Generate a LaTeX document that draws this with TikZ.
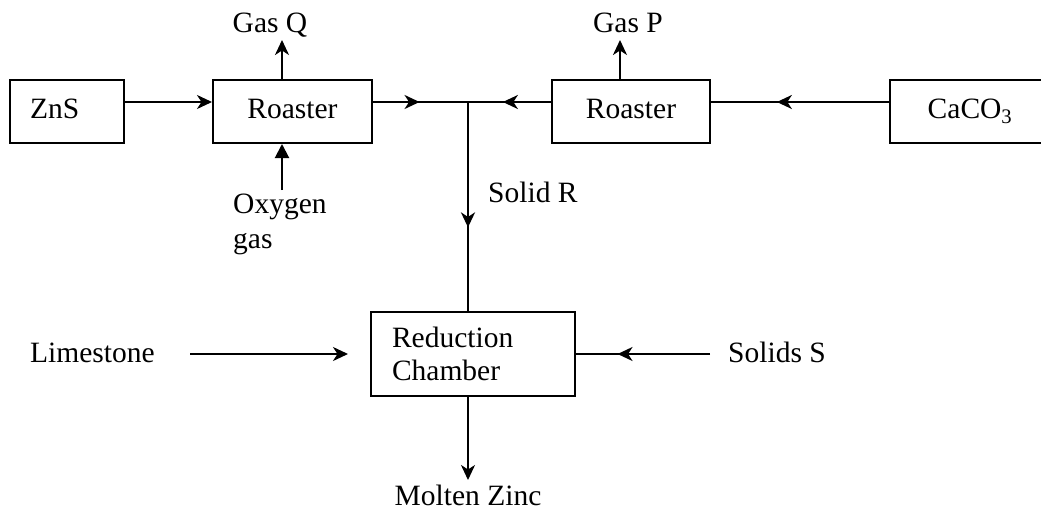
\documentclass[tikz,border=0pt]{standalone}
\usepackage{fontspec}
\setmainfont{Liberation Serif}
\usetikzlibrary{arrows.meta,decorations.markings}
\tikzset{
  x=1pt, y=-1pt,
  every node/.style={font=\fontsize{29.5}{33}\selectfont, inner sep=0pt},
  flow/.style={line width=2pt},
  tipS/.tip={Stealth[length=15pt,width=14pt,inset=4.5pt]},
  tipT/.tip={Triangle[length=14pt,width=14pt]},
  endarrow/.style={flow,-tipS},
  midarrow/.style={flow, postaction={decorate},
    decoration={markings, mark=at position #1 with {\arrow{tipS}}}},
  unit/.style={draw, line width=2pt, minimum height=63pt,
    text height=19pt, text depth=6pt},
  lbl/.style={anchor=base},
}
\begin{document}
\begin{tikzpicture}
\useasboundingbox (0,0) rectangle (1041,511);
% boxes
\node[unit, minimum width=114pt, inner xsep=20pt, text width=74pt, align=left] (zns) at (67,111.5) {ZnS};
\node[unit, minimum width=159pt] (r1) at (292.5,111.5) {Roaster};
\node[unit, minimum width=158pt] (r2) at (631,111.5) {Roaster};
\node[unit, minimum width=160pt] (caco) at (970,111.5) {CaCO\textsubscript{3}};
\node[draw, line width=2pt, minimum width=204pt, minimum height=84pt,
  inner xsep=21pt, text width=162pt, align=left] (red) at (473,354) {Reduction\\Chamber};
% labels
\node[lbl] (gasq) at (270,33) {Gas Q};
\node[lbl] (gasp) at (628,33) {Gas P};
\node[anchor=base west] (oxy) at (233,213) {Oxygen};
\node[anchor=base west] (oxy2) at (233,248) {gas};
\node[anchor=base west] (solr) at (488,202) {Solid R};
\node[anchor=base west] (lime) at (30,362) {Limestone};
\node[anchor=base west] (sols) at (728,362) {Solids S};
\node[lbl] (zinc) at (468,505) {Molten Zinc};
% coordinates
\coordinate (j) at (468,102);
\coordinate (gq) at (282,40);
\coordinate (gp) at (620,40);
\coordinate (ox) at (282,190);
\coordinate (ls) at (190,354);
\coordinate (le) at (348,354);
\coordinate (ss) at (710,354);
\coordinate (mz) at (468,480);
% connectors
\draw[endarrow] (zns.east |- j) -- (r1.west |- j);
\draw[midarrow=0.49] (r1.east |- j) -- (j);
\draw[midarrow=0.58] (r2.west |- j) -- (j);
\draw[midarrow=0.63] (caco.west |- j) -- (r2.east |- j);
\draw[endarrow] (r1.north -| gq) -- (gq);
\draw[endarrow] (r2.north -| gp) -- (gp);
\draw[flow,-tipT] (ox) -- (r1.south -| ox);
\draw[midarrow=0.6] (j) -- (j |- red.north);
\draw[endarrow] (ls) -- (le);
\draw[midarrow=0.69] (ss) -- (red.east);
\draw[endarrow] (j |- red.south) -- (mz);
\end{tikzpicture}
\end{document}
